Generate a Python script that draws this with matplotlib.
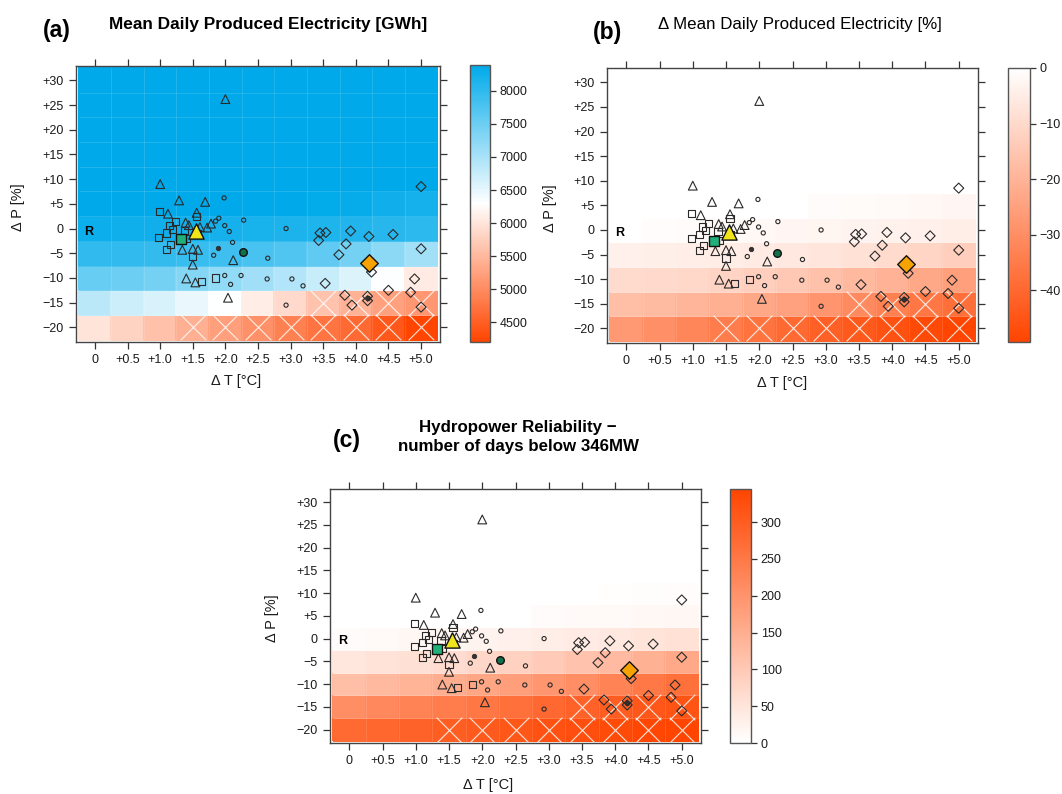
import numpy as np
import matplotlib
matplotlib.use("Agg")
import matplotlib.pyplot as plt
from matplotlib.colors import LinearSegmentedColormap, Normalize
from matplotlib.cm import ScalarMappable

plt.rcParams['font.family'] = ['Liberation Sans', 'DejaVu Sans']

# ---------------------------------------------------------------- data
delta_t = [0.0, 0.5, 1.0, 1.5, 2.0, 2.5, 3.0, 3.5, 4.0, 4.5, 5.0]
delta_p = [-20, -15, -10, -5, 0, 5, 10, 15, 20, 25, 30]
t_labels = ["0", "+0.5", "+1.0", "+1.5", "+2.0", "+2.5", "+3.0", "+3.5", "+4.0", "+4.5", "+5.0"]
p_labels = ["\u221220", "\u221215", "\u221210", "\u22125", "0", "+5", "+10", "+15", "+20", "+25", "+30"]

# mean daily produced electricity [GWh]; one row per delta_p (from -20 up)
mean_gwh = [
    [5994, 5801, 5600, 5407, 5230, 5060, 4890, 4740, 4620, 4420, 4204],
    [6862, 6716, 6608, 6465, 6300, 6094, 5880, 5622, 5440, 5250, 5140],
    [7524, 7500, 7440, 7306, 7180, 7070, 6928, 6750, 6583, 6320, 6072],
    [7995, 7990, 7960, 7920, 7870, 7800, 7730, 7600, 7440, 7230, 7050],
    [8290, 8270, 8250, 8230, 8210, 8190, 8160, 8130, 8100, 8060, 8020],
    [8390, 8390, 8390, 8390, 8390, 8390, 8380, 8360, 8340, 8250, 8220],
    [8390, 8390, 8390, 8390, 8390, 8390, 8390, 8390, 8390, 8390, 8390],
    [8390, 8390, 8390, 8390, 8390, 8390, 8390, 8390, 8390, 8390, 8390],
    [8390, 8390, 8390, 8390, 8390, 8390, 8390, 8390, 8390, 8390, 8390],
    [8390, 8390, 8390, 8390, 8390, 8390, 8390, 8390, 8390, 8390, 8390],
    [8390, 8390, 8390, 8390, 8390, 8390, 8390, 8390, 8390, 8390, 8390],
]

# change of mean daily produced electricity [%]
delta_gwh_pct = [
    [-27.0, -29.5, -32.0, -34.5, -37.0, -39.5, -42.0, -44.0, -46.0, -48.0, -49.3],
    [-17.0, -18.0, -19.5, -21.0, -23.0, -25.0, -28.0, -31.0, -33.5, -36.0, -38.0],
    [-9.5, -10.0, -10.5, -11.5, -13.0, -14.5, -16.5, -18.5, -20.5, -23.0, -25.5],
    [-4.0, -4.3, -4.6, -5.0, -5.5, -6.0, -7.0, -8.0, -9.5, -11.0, -13.0],
    [0.0, -0.8, -1.2, -1.6, -2.0, -2.4, -2.8, -3.2, -3.6, -4.0, -4.5],
    [0.0, 0.0, 0.0, 0.0, 0.0, 0.0, -1.0, -1.3, -1.6, -2.0, -2.4],
    [0.0, 0.0, 0.0, 0.0, 0.0, 0.0, 0.0, 0.0, 0.0, 0.0, 0.0],
    [0.0, 0.0, 0.0, 0.0, 0.0, 0.0, 0.0, 0.0, 0.0, 0.0, 0.0],
    [0.0, 0.0, 0.0, 0.0, 0.0, 0.0, 0.0, 0.0, 0.0, 0.0, 0.0],
    [0.0, 0.0, 0.0, 0.0, 0.0, 0.0, 0.0, 0.0, 0.0, 0.0, 0.0],
    [0.0, 0.0, 0.0, 0.0, 0.0, 0.0, 0.0, 0.0, 0.0, 0.0, 0.0],
]

# number of days below 346 MW
days_below = [
    [275, 283, 291, 298, 305, 312, 320, 327, 334, 340, 345],
    [210, 220, 230, 240, 252, 265, 278, 290, 300, 310, 318],
    [120, 130, 140, 152, 165, 180, 195, 210, 230, 250, 265],
    [45, 52, 58, 65, 75, 85, 98, 112, 128, 145, 160],
    [8, 12, 15, 18, 22, 27, 32, 38, 44, 50, 56],
    [0, 0, 0, 0, 0, 0, 8, 10, 12, 14, 16],
    [0, 0, 0, 0, 0, 0, 0, 0, 4, 5, 6],
    [0, 0, 0, 0, 0, 0, 0, 0, 0, 0, 0],
    [0, 0, 0, 0, 0, 0, 0, 0, 0, 0, 0],
    [0, 0, 0, 0, 0, 0, 0, 0, 0, 0, 0],
    [0, 0, 0, 0, 0, 0, 0, 0, 0, 0, 0],
]

# crossed cells (delta T, delta P)
crossed_t = [1.5, 2.0, 2.5, 3.0, 3.5, 4.0, 4.5, 5.0, 3.5, 4.0, 4.5, 5.0]
crossed_p = [-20, -20, -20, -20, -20, -20, -20, -20, -15, -15, -15, -15]

# climate projections
tri_t = [2.0, 1.0, 1.29, 1.69, 1.12, 1.56, 1.39, 1.44, 1.78, 1.72, 1.61,
         1.34, 1.5, 1.58, 1.5, 2.12, 1.4, 1.54, 2.04]
tri_p = [26.2, 9.0, 5.7, 5.4, 3.0, 3.2, 1.2, 0.7, 1.0, 0.2, 0.3,
         -4.3, -4.1, -4.3, -7.3, -6.4, -10.1, -10.9, -14.0]
sq_t = [0.985, 1.56, 1.23, 1.15, 1.19, 1.38, 1.1, 0.975, 1.4, 1.57, 1.16, 1.1, 1.5, 1.63, 1.85]
sq_p = [3.4, 2.35, 1.35, 0.6, -0.2, -0.4, -0.9, -1.8, -2.1, -1.0, -3.2, -4.2, -5.7, -10.8, -10.0]
circ_t = [1.98, 2.28, 1.9, 1.85, 1.99, 2.06, 2.11, 1.82, 2.65, 2.93, 1.99,
          2.24, 2.08, 2.64, 3.02, 3.19, 2.93]
circ_p = [6.2, 1.7, 2.1, 1.5, 0.6, -0.6, -2.8, -5.4, -6.0, 0.0, -9.5,
          -9.5, -11.3, -10.2, -10.2, -11.6, -15.5]
dark_circ_t = [1.88, 4.18]
dark_circ_p = [-3.9, -14.1]
dia_t = [5.0, 3.45, 3.54, 3.43, 3.92, 4.2, 4.57, 3.85, 3.74, 5.0, 4.24,
         3.53, 4.9, 3.83, 3.94, 4.18, 4.18, 4.5, 4.84, 5.0]
dia_p = [8.5, -0.9, -0.8, -2.4, -0.5, -1.6, -1.2, -3.1, -5.3, -4.1, -8.8,
         -11.1, -10.2, -13.5, -15.5, -13.7, -14.6, -12.5, -12.9, -15.9]

# ensemble means
mean_tri = (1.55, -0.4)
mean_sq = (1.32, -2.2)
mean_circ = (2.27, -4.7)
mean_dia = (4.2, -7.0)

# ---------------------------------------------------------------- styling
ORANGERED = "#FF4500"
BLUE = "#00AAEA"
W, H = 1062, 794

cmap_gwh = LinearSegmentedColormap.from_list("gwh", [ORANGERED, "white", BLUE], N=256)
cmap_pct = LinearSegmentedColormap.from_list("pct", [ORANGERED, "white"], N=256)
cmap_days = LinearSegmentedColormap.from_list("days", ["white", ORANGERED], N=256)

fig = plt.figure(figsize=(W / 100, H / 100), dpi=100)


def axes_px(x0, y0, x1, y1):
    return fig.add_axes([x0 / W, 1 - y1 / H, (x1 - x0) / W, (y1 - y0) / H])


def text_px(x, y, s, **kw):
    fig.text(x / W, 1 - y / H, s, ha="center", va="center", **kw)


def edges(centers):
    c = np.asarray(centers, dtype=float)
    step = c[1] - c[0]
    return np.concatenate([c - step / 2, [c[-1] + step / 2]])


def draw_panel(ax, values, cmap, norm):
    te, pe = edges(delta_t), edges(delta_p)
    ax.pcolormesh(te, pe, np.asarray(values, dtype=float), cmap=cmap, norm=norm,
                  shading="flat", edgecolors="face", linewidth=0.3, zorder=1)
    # faint seams between tiles
    ax.vlines(te[1:-1], pe[0], pe[-1], color="white", lw=0.5, alpha=0.18, zorder=1.5)
    ax.hlines(pe[1:-1], te[0], te[-1], color="white", lw=0.5, alpha=0.18, zorder=1.5)
    # large white crosses on flagged cells
    ax.scatter(crossed_t, crossed_p, marker="x", s=340, color="white",
               linewidths=0.8, alpha=0.85, zorder=2)

    ec = "#2a2a2a"
    ax.scatter(sq_t, sq_p, marker="s", s=26, facecolors="none", edgecolors=ec, linewidths=0.8, zorder=3)
    ax.scatter(tri_t, tri_p, marker="^", s=40, facecolors="none", edgecolors=ec, linewidths=0.8, zorder=3)
    ax.scatter(circ_t, circ_p, marker="o", s=9, facecolors="none", edgecolors=ec, linewidths=0.8, zorder=3)
    ax.scatter(dark_circ_t, dark_circ_p, marker="o", s=10, facecolors="#333333", edgecolors=ec, linewidths=0.6, zorder=3)
    ax.scatter(dia_t, dia_p, marker="D", s=26, facecolors="none", edgecolors=ec, linewidths=0.8, zorder=3)

    ax.scatter([mean_sq[0]], [mean_sq[1]], marker="s", s=62, facecolors="#22B07A", edgecolors="#111111", linewidths=1.0, zorder=4)
    ax.scatter([mean_tri[0]], [mean_tri[1]], marker="^", s=120, facecolors="#F2E41A", edgecolors="#111111", linewidths=1.0, zorder=4)
    ax.scatter([mean_circ[0]], [mean_circ[1]], marker="o", s=30, facecolors="#13704A", edgecolors="#111111", linewidths=1.0, zorder=4)
    ax.scatter([mean_dia[0]], [mean_dia[1]], marker="D", s=80, facecolors="#F5A202", edgecolors="#111111", linewidths=1.0, zorder=4)

    ax.text(-0.1, -0.6, "R", fontsize=9, fontweight="bold", ha="center", va="center", zorder=5)

    ax.set_xlim(-0.29, 5.29)
    ax.set_ylim(-22.96, 32.9)
    ax.set_xticks(delta_t)
    ax.set_xticklabels(t_labels)
    ax.set_yticks(delta_p)
    ax.set_yticklabels(p_labels)
    ax.tick_params(direction="out", length=5, width=0.9, top=True, right=True,
                   labeltop=False, labelright=False, color="#333333",
                   labelcolor="#1a1a1a", labelsize=9, pad=4)
    for sp in ax.spines.values():
        sp.set_color("#444444")
        sp.set_linewidth(1.0)


def draw_key(cax, cmap, norm, ticks, labels):
    cb = fig.colorbar(ScalarMappable(norm=norm, cmap=cmap), cax=cax)
    cb.set_ticks(ticks)
    cb.set_ticklabels(labels)
    cb.outline.set_edgecolor("#555555")
    cb.outline.set_linewidth(1.0)
    cax.tick_params(direction="out", length=4, width=0.9, color="#333333",
                    labelcolor="#1a1a1a", labelsize=9, pad=3)


# (a) mean daily produced electricity
ax_a = axes_px(76, 66, 440, 342)
norm_a = Normalize(4204, 8390)
draw_panel(ax_a, mean_gwh, cmap_gwh, norm_a)
draw_key(axes_px(470, 65, 490, 342), cmap_gwh, norm_a,
         [4500, 5000, 5500, 6000, 6500, 7000, 7500, 8000],
         ["4500", "5000", "5500", "6000", "6500", "7000", "7500", "8000"])

# (b) change of mean daily produced electricity
ax_b = axes_px(607, 68, 978, 343)
norm_b = Normalize(-49.3, 0)
draw_panel(ax_b, delta_gwh_pct, cmap_pct, norm_b)
draw_key(axes_px(1008, 68, 1030, 342), cmap_pct, norm_b,
         [-40, -30, -20, -10, 0], ["\u221240", "\u221230", "\u221220", "\u221210", "0"])

# (c) hydropower reliability
ax_c = axes_px(330, 489, 701, 743)
norm_c = Normalize(0, 345)
draw_panel(ax_c, days_below, cmap_days, norm_c)
draw_key(axes_px(730, 489, 751, 743), cmap_days, norm_c,
         [0, 50, 100, 150, 200, 250, 300], ["0", "50", "100", "150", "200", "250", "300"])

# titles, panel tags and axis labels
text_px(268, 24, "Mean Daily Produced Electricity [GWh]", fontsize=12.4, fontweight="bold")
text_px(800, 24, "\u0394 Mean Daily Produced Electricity [%]", fontsize=12.2)
text_px(518, 437, "Hydropower Reliability \u2212\nnumber of days below 346MW",
        fontsize=12.2, fontweight="bold", linespacing=1.3)
text_px(57, 31, "(a)", fontsize=16.5, fontweight="bold")
text_px(608, 32, "(b)", fontsize=16.5, fontweight="bold")
text_px(347, 441, "(c)", fontsize=16.5, fontweight="bold")

for x, y in [(18, 207), (550, 208), (272, 618)]:
    text_px(x, y, "\u0394 P [%]", fontsize=10.5, rotation=90, color="#1a1a1a")
for x, y in [(236, 381), (782, 383), (488, 785)]:
    text_px(x, y, "\u0394 T [\u00b0C]", fontsize=10.5, color="#1a1a1a")

fig.savefig("out.png", dpi=100, facecolor="white")
